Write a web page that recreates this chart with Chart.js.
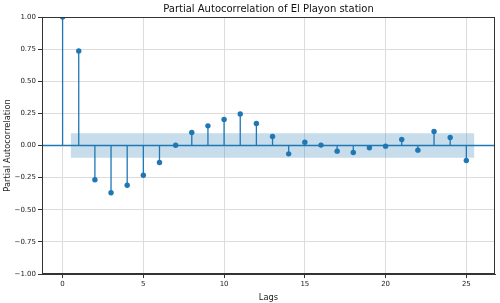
<!DOCTYPE html>
<html>
<head>
<meta charset="utf-8">
<script src="https://cdn.jsdelivr.net/npm/chart.js@4"></script>
<style>
  body { margin: 0; background: #fff; }
  #wrap { width: 500px; height: 303px; }
</style>
</head>
<body>
<div id="wrap"><canvas id="pacf" width="500" height="303"></canvas></div>
<script>
// lags and partial autocorrelation values
const lags = [0, 1, 2, 3, 4, 5, 6, 7, 8, 9, 10, 11, 12, 13, 14, 15, 16, 17, 18, 19, 20, 21, 22, 23, 24, 25];
const pacf = [1.0, 0.735, -0.267, -0.368, -0.309, -0.231, -0.132, 0.002, 0.101, 0.153, 0.203, 0.245,
  0.171, 0.070, -0.065, 0.026, 0.003, -0.044, -0.054, -0.018, -0.005, 0.047, -0.036, 0.109, 0.062, -0.117];
const confLimit = 0.096;
const xTicks = [0, 5, 10, 15, 20, 25];
const yTicks = [-1, -0.75, -0.5, -0.25, 0, 0.25, 0.5, 0.75, 1];

const blue = "#1f77b4";
const xMin = -1.275;
const xMax = 26.775;

// stems: 0 -> value, with a gap between each lag
const stemPoints = [];
lags.forEach((lag, i) => {
  stemPoints.push({ x: lag, y: 0 });
  stemPoints.push({ x: lag, y: pacf[i] });
  stemPoints.push({ x: lag, y: null });
});

const boxPlugin = {
  id: "box",
  afterDraw(chart) {
    const { ctx, chartArea } = chart;
    ctx.save();
    ctx.strokeStyle = "#333";
    ctx.lineWidth = 1;
    ctx.strokeRect(chartArea.left + 0.5, chartArea.top + 0.5,
      chartArea.right - chartArea.left - 1, chartArea.bottom - chartArea.top - 1);
    ctx.restore();
  },
};

const ctx = document.getElementById("pacf").getContext("2d");
new Chart(ctx, {
  type: "scatter",
  data: {
    datasets: [
      {
        data: [{ x: 0.5, y: confLimit }, { x: 25.5, y: confLimit }],
        showLine: true,
        pointRadius: 0,
        borderWidth: 0,
        borderColor: "rgba(0,0,0,0)",
        backgroundColor: "rgba(31,119,180,0.25)",
        fill: "+1",
      },
      {
        data: [{ x: 0.5, y: -confLimit }, { x: 25.5, y: -confLimit }],
        showLine: true,
        pointRadius: 0,
        borderWidth: 0,
        borderColor: "rgba(0,0,0,0)",
        fill: false,
      },
      {
        data: [{ x: xMin, y: 0 }, { x: xMax, y: 0 }],
        showLine: true,
        pointRadius: 0,
        borderColor: blue,
        borderWidth: 1.4,
      },
      {
        data: stemPoints,
        showLine: true,
        spanGaps: false,
        pointRadius: 0,
        borderColor: blue,
        borderWidth: 1.3,
      },
      {
        data: lags.map((lag, i) => ({ x: lag, y: pacf[i] })),
        showLine: false,
        pointRadius: 2.7,
        pointBorderWidth: 0,
        backgroundColor: blue,
        borderColor: blue,
      },
    ],
  },
  options: {
    responsive: false,
    animation: false,
    layout: { padding: { left: 0, right: 5, top: 0, bottom: 0 } },
    plugins: {
      legend: { display: false },
      tooltip: { enabled: false },
      title: {
        display: true,
        text: "Partial Autocorrelation of El Playon station",
        fullSize: false,
        color: "#111",
        font: { family: "DejaVu Sans", size: 10, weight: "normal" },
        padding: { top: 3, bottom: 2 },
      },
    },
    scales: {
      x: {
        type: "linear",
        min: xMin,
        max: xMax,
        afterBuildTicks: (scale) => {
          scale.ticks = xTicks.map((v) => ({ value: v }));
        },
        afterFit: (scale) => {
          scale.height = 29;
        },
        grid: { color: "#dcdcdc", tickColor: "#333", tickLength: 4 },
        border: { display: true, color: "#333" },
        ticks: {
          color: "#222",
          padding: 2,
          maxRotation: 0,
          font: { family: "DejaVu Sans", size: 7 },
        },
        title: {
          display: true,
          text: "Lags",
          color: "#222",
          padding: { top: 1, bottom: 0 },
          font: { family: "DejaVu Sans", size: 8.3 },
        },
      },
      y: {
        min: -1,
        max: 1,
        afterBuildTicks: (scale) => {
          scale.ticks = yTicks.map((v) => ({ value: v }));
        },
        afterFit: (scale) => {
          scale.width = 42;
        },
        grid: { color: "#dcdcdc", tickColor: "#333", tickLength: 4 },
        border: { display: true, color: "#333" },
        ticks: {
          color: "#222",
          padding: 2,
          font: { family: "DejaVu Sans", size: 7 },
          callback: (v) => v.toFixed(2).replace("-", "\u2212"),
        },
        title: {
          display: true,
          text: "Partial Autocorrelation",
          color: "#222",
          padding: { top: 3, bottom: 0 },
          font: { family: "DejaVu Sans", size: 8.3 },
        },
      },
    },
  },
  plugins: [boxPlugin],
});
</script>
</body>
</html>
